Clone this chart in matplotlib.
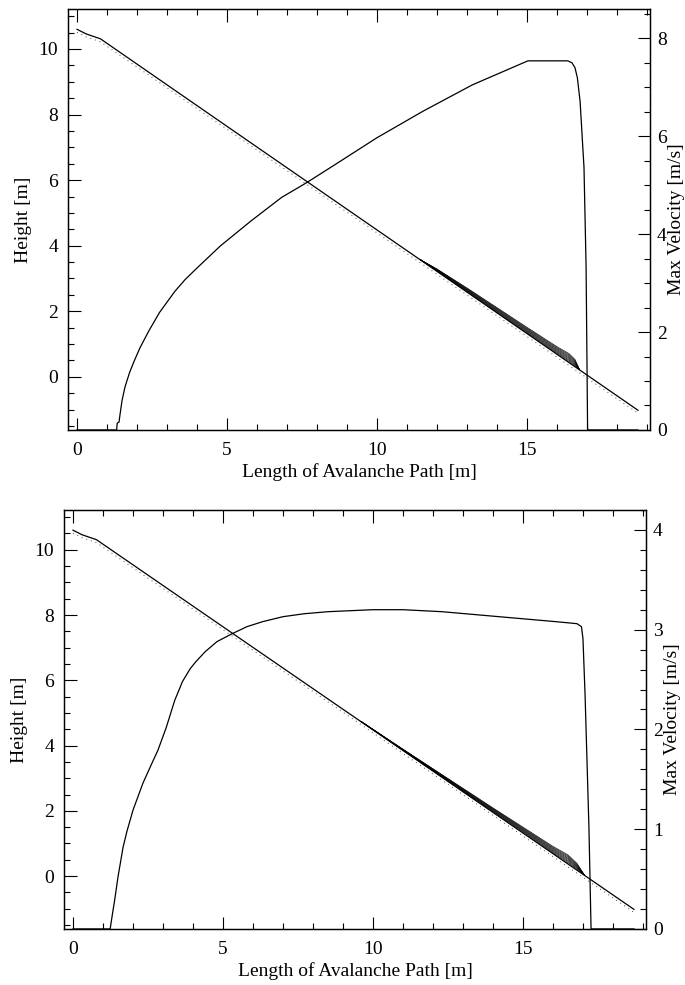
import numpy as np
import matplotlib.pyplot as plt
from matplotlib.ticker import MultipleLocator

plt.rcParams['font.family'] = ['Liberation Serif', 'DejaVu Serif']

# terrain profile (same chute in both runs)
path_x = [0.0, 0.3, 0.78, 5.0, 10.0, 15.0, 18.7]
path_h = [10.6, 10.46, 10.31, 7.64, 4.48, 1.32, -1.02]

# run 1: flow surface above the bed and max velocity
band1_x = [11.45, 12.0, 13.0, 14.0, 15.0, 16.0, 16.4, 16.6, 16.75]
band1_bed = [3.57, 3.22, 2.59, 1.95, 1.32, 0.69, 0.44, 0.31, 0.22]
band1_top = [3.57, 3.29, 2.71, 2.11, 1.51, 0.92, 0.71, 0.53, 0.22]
vel1_x = [0.0, 1.32, 1.34, 1.40, 1.43, 1.5, 1.6, 1.75, 1.9, 2.1, 2.4, 2.75,
          3.26, 3.6, 4.02, 4.78, 5.3, 5.8, 6.82, 7.65, 8.6, 10.0, 11.53, 13.18,
          15.03, 16.36, 16.5, 16.6, 16.68, 16.77, 16.9, 16.97, 17.02, 18.7]
vel1_v = [0.0, 0.0, 0.14, 0.16, 0.3, 0.6, 0.88, 1.17, 1.4, 1.68, 2.03, 2.4,
          2.83, 3.07, 3.32, 3.76, 4.02, 4.27, 4.75, 5.05, 5.42, 5.97, 6.51, 7.05,
          7.54, 7.54, 7.5, 7.4, 7.19, 6.71, 5.36, 3.32, 0.0, 0.0]

# run 2
band2_x = [9.6, 11.0, 12.0, 13.0, 14.0, 15.0, 16.0, 16.5, 16.8, 17.05]
band2_bed = [4.74, 3.85, 3.22, 2.59, 1.96, 1.33, 0.69, 0.38, 0.19, 0.03]
band2_top = [4.74, 3.89, 3.29, 2.69, 2.09, 1.50, 0.91, 0.65, 0.39, 0.03]
vel2_x = [0.0, 1.24, 1.3, 1.39, 1.5, 1.67, 1.8, 2.0, 2.33, 2.6, 2.83, 3.11,
          3.39, 3.65, 3.91, 4.1, 4.41, 4.8, 5.31, 5.8, 6.32, 7.0, 7.72, 8.5,
          10.0, 11.0, 12.3, 14.2, 16.1, 16.8, 16.95, 17.0, 17.07, 17.2, 17.27,
          18.7]
vel2_v = [0.0, 0.0, 0.12, 0.29, 0.52, 0.82, 0.98, 1.19, 1.46, 1.64, 1.79, 2.02,
          2.29, 2.48, 2.61, 2.68, 2.78, 2.88, 2.96, 3.03, 3.08, 3.13, 3.16, 3.18,
          3.2, 3.2, 3.18, 3.13, 3.08, 3.06, 3.03, 2.91, 2.35, 1.01, 0.0,
          0.0]

fig = plt.figure(figsize=(6.85, 9.85), dpi=100)


def panel(rect, band_x, band_bed, band_top, vx, vv, vtop, vmajor, vminor):
    ax = fig.add_axes(rect)
    ax.plot(path_x, path_h, color='k', lw=0.9)
    # little hatch dots under the bed line
    ax.plot(path_x, np.array(path_h) - 0.09, color='0.3', lw=0.7,
            linestyle=(0, (1, 4)))
    bx = np.array(band_x)
    bb = np.array(band_bed)
    bt = np.array(band_top)
    for k in range(1, 9):
        ax.plot(bx, bb + (bt - bb) * k / 8, color='k', lw=0.45)
    ax.set_xlim(-0.3, 19.1)
    ax.set_ylim(-1.62, 11.22)
    ax.xaxis.set_major_locator(MultipleLocator(5))
    ax.xaxis.set_minor_locator(MultipleLocator(1))
    ax.yaxis.set_major_locator(MultipleLocator(2))
    ax.yaxis.set_minor_locator(MultipleLocator(0.5))
    ax.tick_params(which='both', direction='in', top=True, right=False,
                   labelsize=14, width=0.8)
    ax.tick_params(axis='x', which='both', pad=9)
    ax.tick_params(axis='y', which='both', pad=7)
    ax.tick_params(which='major', length=9)
    ax.tick_params(which='minor', length=4.5)
    ax.set_xlabel('Length of Avalanche Path [m]', fontsize=14, labelpad=3)
    ax.set_ylabel('Height [m]', fontsize=14, labelpad=5)

    ax2 = ax.twinx()
    ax2.plot(vx, vv, color='k', lw=0.9)
    ax2.set_ylim(0, vtop)
    ax2.yaxis.set_major_locator(MultipleLocator(vmajor))
    ax2.yaxis.set_minor_locator(MultipleLocator(vminor))
    ax2.tick_params(which='both', direction='in', labelsize=14, width=0.8,
                    pad=5)
    ax2.tick_params(which='major', length=9)
    ax2.tick_params(which='minor', length=4.5)
    ax2.set_ylabel('Max Velocity [m/s]', fontsize=14, labelpad=1)
    for a in (ax, ax2):
        for s in a.spines.values():
            s.set_linewidth(0.9)
    return ax, ax2


panel([0.0993, 0.5635, 0.8496, 0.4274], band1_x, band1_bed, band1_top,
      vel1_x, vel1_v, 8.6, 2, 0.5)
panel([0.0934, 0.0569, 0.8496, 0.4254], band2_x, band2_bed, band2_top,
      vel2_x, vel2_v, 4.2, 1, 0.2)

fig.savefig('out.png', dpi=100)
